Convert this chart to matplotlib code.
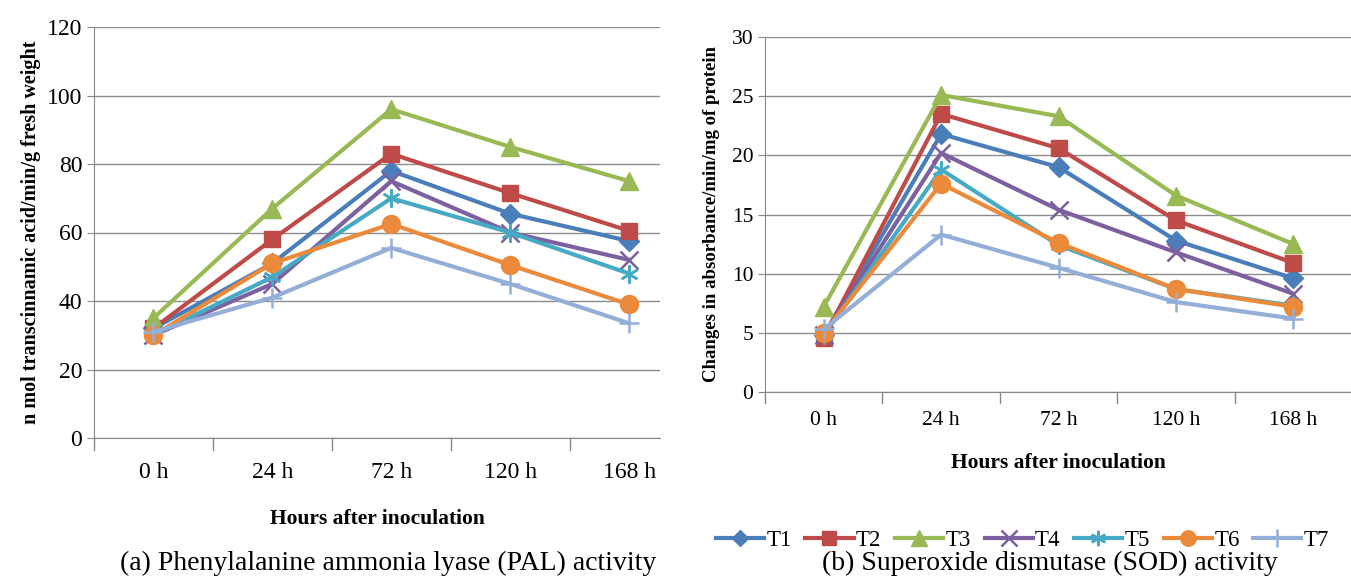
import matplotlib
matplotlib.use("Agg")
import matplotlib.pyplot as plt
from matplotlib.lines import Line2D

plt.rcParams['font.family'] = ['Liberation Serif', 'DejaVu Serif']

hours = ['0 h', '24 h', '72 h', '120 h', '168 h']
series = ['T1', 'T2', 'T3', 'T4', 'T5', 'T6', 'T7']

# PAL activity (n mol transcinnamic acid/min/g fresh weight)
pal_T1 = [32, 51, 78, 65.5, 57.5]
pal_T2 = [32, 58, 83, 71.5, 60.5]
pal_T3 = [35, 67, 96, 85, 75]
pal_T4 = [30, 45, 75, 60, 52]
pal_T5 = [30, 47, 70, 60, 48]
pal_T6 = [30, 51, 62.5, 50.5, 39]
pal_T7 = [31, 41, 55.5, 45, 33.5]

# SOD activity (changes in absorbance/min/mg of protein)
sod_T1 = [4.8, 21.8, 19.0, 12.8, 9.6]
sod_T2 = [4.6, 23.5, 20.6, 14.5, 10.9]
sod_T3 = [7.2, 25.1, 23.3, 16.6, 12.5]
sod_T4 = [4.8, 20.2, 15.4, 11.8, 8.3]
sod_T5 = [4.8, 18.8, 12.4, 8.7, 7.3]
sod_T6 = [5.0, 17.6, 12.6, 8.7, 7.2]
sod_T7 = [5.3, 13.3, 10.5, 7.6, 6.2]

pal = [pal_T1, pal_T2, pal_T3, pal_T4, pal_T5, pal_T6, pal_T7]
sod = [sod_T1, sod_T2, sod_T3, sod_T4, sod_T5, sod_T6, sod_T7]

colors = ['#4A7EBB', '#BE4B48', '#98B954', '#7D60A0', '#46AAC5', '#EB8A3A', '#93AFD8']
markers = ['D', 's', '^', 'x', (6, 2, 0), 'o', '+']
msizes = [10, 12, 13, 13, 13, 13, 15]
mew = [1, 1, 1, 1.8, 1.8, 1, 1.8]

fig = plt.figure(figsize=(13.51, 5.77), dpi=100)
W, H = 1351, 577


def style(ax, ymax, step, tick_fs, pad):
    ax.set_ylim(0, ymax)
    ax.set_yticks(range(0, ymax + 1, step))
    ax.set_xticks(range(len(hours)))
    ax.set_xticklabels(hours, fontsize=tick_fs)
    ax.tick_params(axis='y', labelsize=tick_fs, length=5, color='#888888')
    ax.tick_params(axis='x', length=0, pad=pad)
    for x in [-0.5, 0.5, 1.5, 2.5, 3.5]:
        ax.plot([x, x], [0, -0.03 * ymax], color='#888888', lw=1, clip_on=False)
    ax.grid(axis='y', color='#8c8c8c', lw=1)
    ax.set_axisbelow(True)
    for s in ['top', 'right']:
        ax.spines[s].set_visible(False)
    for s in ['left', 'bottom']:
        ax.spines[s].set_color('#888888')


ax1 = fig.add_axes([94 / W, 1 - 438 / H, (660 - 94) / W, (438 - 27) / H])
for vals, c, m, ms, mw in zip(pal, colors, markers, msizes, mew):
    ax1.plot(range(len(hours)), vals, color=c, lw=3, marker=m, ms=ms, mew=mw,
             mec=c, mfc=c)
style(ax1, 120, 20, 17, 17)
ax1.set_xlim(-0.5, 4.26)
ax1.set_ylabel('n mol transcinnamic acid/min/g fresh weight', fontsize=14.5,
               fontweight='bold', labelpad=4)
ax1.set_xlabel('Hours after inoculation', fontsize=15.5, fontweight='bold',
               labelpad=19)

ax2 = fig.add_axes([765 / W, 1 - 392 / H, (1351 - 765) / W, (392 - 37) / H])
for vals, c, m, ms, mw in zip(sod, colors, markers, msizes, mew):
    ax2.plot(range(len(hours)), vals, color=c, lw=3, marker=m, ms=ms, mew=mw,
             mec=c, mfc=c)
style(ax2, 30, 5, 15.5, 14)
ax2.set_xlim(-0.5, 4.49)
ax2.set_ylabel('Changes in absorbance/min/mg of protein', fontsize=13.5,
               fontweight='bold', labelpad=8)
ax2.set_xlabel('Hours after inoculation', fontsize=15.5, fontweight='bold',
               labelpad=16)

handles = [Line2D([], [], color=c, lw=3, marker=m, ms=ms * 0.85, mew=mw, mec=c, mfc=c)
           for c, m, ms, mw in zip(colors, markers, msizes, mew)]
fig.legend(handles, series, loc='center left', ncol=7, frameon=False,
           bbox_to_anchor=(716 / W, 1 - 540 / H), fontsize=16.5,
           handlelength=2.1, handletextpad=0.1, columnspacing=0.6,
           borderaxespad=0, borderpad=0)

fig.text(388 / W, 1 - 563 / H, '(a) Phenylalanine ammonia lyase (PAL) activity',
         ha='center', va='center', fontsize=20)
fig.text(1050 / W, 1 - 563 / H, '(b) Superoxide dismutase (SOD) activity',
         ha='center', va='center', fontsize=20)

fig.savefig('out.png', dpi=100)
